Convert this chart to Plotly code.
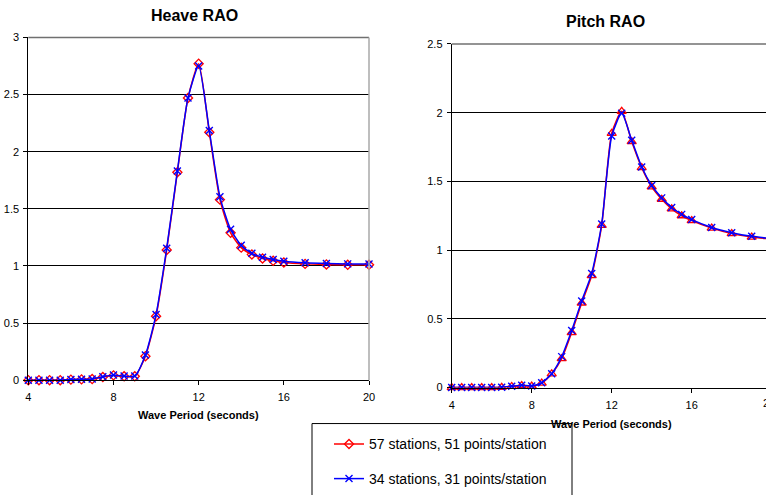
import plotly.graph_objects as go

# Wave periods (s) at which the response amplitude operators were evaluated
period = [4, 4.5, 5, 5.5, 6, 6.5, 7, 7.5, 8, 8.5, 9, 9.5, 10, 10.5, 11, 11.5,
          12, 12.5, 13, 13.5, 14, 14.5, 15, 15.5, 16, 17, 18, 19, 20]

# Heave RAO for the two hull discretisations
heave_57 = [0.0, 0.0, 0.0, 0.0, 0.005, 0.007, 0.01, 0.028, 0.042, 0.034, 0.034,
            0.21, 0.56, 1.14, 1.82, 2.47, 2.77, 2.17, 1.58, 1.29, 1.16, 1.10,
            1.065, 1.045, 1.03, 1.018, 1.013, 1.01, 1.01]
heave_34 = [0.0, 0.0, 0.0, 0.0, 0.006, 0.008, 0.011, 0.03, 0.045, 0.036, 0.037,
            0.22, 0.575, 1.155, 1.83, 2.47, 2.75, 2.185, 1.605, 1.32, 1.18, 1.11,
            1.077, 1.056, 1.041, 1.027, 1.021, 1.018, 1.016]

# Pitch RAO for the two hull discretisations
pitch_57 = [0.0, 0.0, 0.0, 0.0, 0.0, 0.002, 0.008, 0.015, 0.01, 0.032, 0.10,
            0.21, 0.40, 0.615, 0.815, 1.18, 1.85, 2.01, 1.79, 1.60, 1.46, 1.37,
            1.30, 1.25, 1.215, 1.16, 1.12, 1.095, 1.08]
pitch_34 = [0.0, 0.0, 0.0, 0.0, 0.0, 0.003, 0.01, 0.017, 0.012, 0.035, 0.10,
            0.225, 0.415, 0.63, 0.83, 1.19, 1.83, 1.995, 1.80, 1.605, 1.47, 1.38,
            1.31, 1.26, 1.222, 1.165, 1.127, 1.10, 1.083]

series_names = ["57 stations, 51 points/station", "34 stations, 31 points/station"]
x_title = "Wave Period (seconds)"

W, H = 766, 495
FONT = "Liberation Sans, Arial, sans-serif"
RED, BLUE = "#FF0000", "#0000FF"


def px_x(p):
    return p / W


def px_y(p):
    return 1 - p / H


# plot-area extents in pixels
L_X0, L_X1, L_Y0, L_Y1 = 28.3, 369.0, 37.7, 383.3
R_X0, R_Y0, R_Y1 = 451.7, 44.3, 390.7
R_PX_PER_UNIT = 20.0
r_xmax = 4 + (W - R_X0) / R_PX_PER_UNIT

line_kw = dict(width=1.5, shape="spline", smoothing=0.6)

fig = go.Figure()

fig.add_trace(go.Scatter(
    x=period, y=heave_57, name=series_names[0], mode="lines+markers",
    line=dict(color=RED, **line_kw),
    marker=dict(symbol="diamond-open", size=7, color=RED, line=dict(width=1.3)),
    cliponaxis=False, xaxis="x", yaxis="y", legend="legend"))
fig.add_trace(go.Scatter(
    x=period, y=pitch_57, name=series_names[0], mode="lines+markers",
    line=dict(color=RED, **line_kw),
    marker=dict(symbol="triangle-up-open", size=8, color=RED, line=dict(width=1.3)),
    cliponaxis=False, xaxis="x2", yaxis="y2", showlegend=False))
fig.add_trace(go.Scatter(
    x=period, y=heave_34, name=series_names[1], mode="lines+markers",
    line=dict(color=BLUE, **line_kw),
    marker=dict(symbol="x-thin-open", size=7, color=BLUE, line=dict(width=1.4, color=BLUE)),
    cliponaxis=False, xaxis="x", yaxis="y", legend="legend2"))
fig.add_trace(go.Scatter(
    x=period, y=pitch_34, name=series_names[1], mode="lines+markers",
    line=dict(color=BLUE, **line_kw),
    marker=dict(symbol="x-thin-open", size=7, color=BLUE, line=dict(width=1.4, color=BLUE)),
    cliponaxis=False, xaxis="x2", yaxis="y2", showlegend=False))

tick_font = dict(family=FONT, size=11, color="black")
xcommon = dict(dtick=4, tick0=4, showgrid=False, zeroline=False, showline=True,
               linecolor="black", linewidth=1, ticks="outside", ticklen=4,
               tickcolor="black", tickfont=tick_font, ticklabelstandoff=3,
               automargin=False, fixedrange=True)
ycommon = dict(dtick=0.5, showgrid=True, gridcolor="black", gridwidth=1,
               zeroline=False, showline=True, linecolor="black", linewidth=1,
               ticks="outside", ticklen=4, tickcolor="black", tickfont=tick_font,
               ticklabelstandoff=2, automargin=False, fixedrange=True)

r_xmid = (R_X0 + (R_X0 + 16 * R_PX_PER_UNIT)) / 2
legend_common = dict(xanchor="left", yanchor="middle", bgcolor="rgba(0,0,0,0)",
                     borderwidth=0, font=dict(family=FONT, size=14, color="black"),
                     itemwidth=30)

fig.update_layout(
    template="none",
    width=W, height=H, margin=dict(l=0, r=0, t=0, b=0, pad=0),
    paper_bgcolor="white", plot_bgcolor="white",
    font=dict(family=FONT, color="black"),
    xaxis=dict(domain=[px_x(L_X0), px_x(L_X1)], range=[4, 20], anchor="y", **xcommon),
    yaxis=dict(domain=[px_y(L_Y1), px_y(L_Y0)], range=[0, 3], anchor="x", **ycommon),
    xaxis2=dict(domain=[px_x(R_X0), 1], range=[4, r_xmax], anchor="y2", **xcommon),
    yaxis2=dict(domain=[px_y(R_Y1), px_y(R_Y0)], range=[0, 2.5], anchor="x2", **ycommon),
    legend=dict(x=px_x(329), y=px_y(448), **legend_common),
    legend2=dict(x=px_x(329), y=px_y(483), **legend_common),
    shapes=[
        # plot-area border of the heave chart (top and right edges)
        dict(type="line", xref="x domain", yref="y domain", x0=0, x1=1, y0=1, y1=1,
             line=dict(color="#707070", width=1.5)),
        dict(type="line", xref="x domain", yref="y domain", x0=1, x1=1, y0=0, y1=1,
             line=dict(color="#a8a8a8", width=1.5)),
        # top border of the pitch chart
        dict(type="line", xref="x2 domain", yref="y2 domain", x0=0, x1=1, y0=1, y1=1,
             line=dict(color="#707070", width=1.5)),
        # legend frame
        dict(type="rect", xref="paper", yref="paper", x0=px_x(312), x1=px_x(572),
             y0=px_y(427), y1=-0.2, line=dict(color="black", width=1),
             fillcolor="rgba(0,0,0,0)", layer="below"),
    ],
    annotations=[
        dict(text="<b>Heave RAO</b>", xref="paper", yref="paper", x=px_x(194),
             y=px_y(16), xanchor="center", yanchor="middle", showarrow=False,
             font=dict(family=FONT, size=16, color="black")),
        dict(text="<b>Pitch RAO</b>", xref="paper", yref="paper", x=px_x(605),
             y=px_y(22), xanchor="center", yanchor="middle", showarrow=False,
             font=dict(family=FONT, size=16, color="black")),
        dict(text="<b>" + x_title + "</b>", xref="paper", yref="paper",
             x=px_x((L_X0 + L_X1) / 2), y=px_y(418.7), xanchor="center",
             yanchor="middle", showarrow=False, font=dict(family=FONT, size=11, color="black")),
        dict(text="<b>" + x_title + "</b>", xref="paper", yref="paper",
             x=px_x(r_xmid), y=px_y(427), xanchor="center",
             yanchor="middle", showarrow=False, font=dict(family=FONT, size=11, color="black")),
        # last tick label of the pitch axis sits just past the page edge
        dict(text="20", xref="paper", yref="paper",
             x=px_x(R_X0 + (20 - 4) * R_PX_PER_UNIT - 3), y=px_y(R_Y1 + 16),
             xanchor="center", yanchor="middle", showarrow=False, font=tick_font),
    ],
)

fig.write_html("out.html")
